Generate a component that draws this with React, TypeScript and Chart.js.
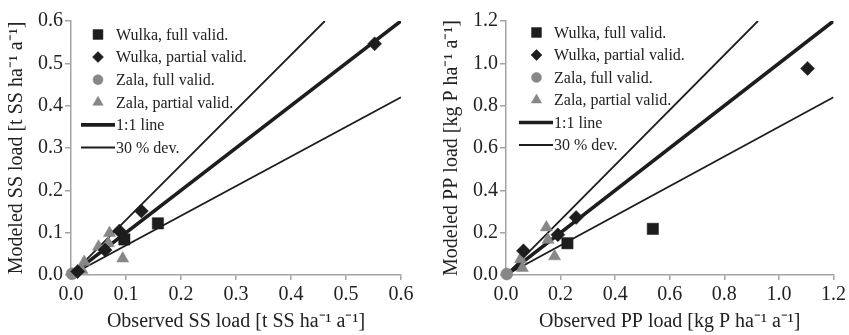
import React, { useEffect, useRef } from 'react';
import { Chart, registerables } from 'chart.js';
import { drawPoint } from 'chart.js/helpers';

Chart.register(...registerables);

const FONT = "'Liberation Serif', 'Times New Roman', serif";
const BLACK = '#1d1d1d';
const GRAY = '#878787';
const AXIS = '#a3a3a3';
const TEXT = '#222222';

// ---- Suspended solids (SS) panel: observed (x) vs modeled (y), t SS ha-1 a-1
const ssWulkaFullObs = [0.158, 0.097];
const ssWulkaFullMod = [0.122, 0.084];
const ssWulkaPartObs = [0.552, 0.128, 0.088, 0.062, 0.012];
const ssWulkaPartMod = [0.546, 0.151, 0.104, 0.059, 0.008];
const ssZalaFullObs = [0.002];
const ssZalaFullMod = [0.003];
const ssZalaPartObs = [0.070, 0.068, 0.050, 0.094, 0.024, 0.020];
const ssZalaPartMod = [0.099, 0.075, 0.067, 0.039, 0.031, 0.012];
const ssAxisMax = 0.6;
const ssStep = 0.1;

// ---- Particulate phosphorus (PP) panel: kg P ha-1 a-1
const ppWulkaFullObs = [0.225, 0.538];
const ppWulkaFullMod = [0.150, 0.218];
const ppWulkaPartObs = [1.105, 0.257, 0.190, 0.064];
const ppWulkaPartMod = [0.976, 0.272, 0.190, 0.114];
const ppZalaFullObs = [0.003];
const ppZalaFullMod = [0.005];
const ppZalaPartObs = [0.148, 0.154, 0.178, 0.053, 0.060];
const ppZalaPartMod = [0.225, 0.166, 0.088, 0.075, 0.033];
const ppAxisMax = 1.2;
const ppStep = 0.2;

// deviation band
const deviation = 0.3;

const legendLabels = [
  'Wulka, full valid.',
  'Wulka, partial valid.',
  'Zala, full valid.',
  'Zala, partial valid.',
  '1:1 line',
  '30 % dev.',
];

const pairs = (xs: number[], ys: number[]) => xs.map((x, i) => ({ x, y: ys[i] }));

type PanelSpec = {
  obs: number[][];
  mod: number[][];
  max: number;
  step: number;
  xTitle: string;
  yTitle: string;
  padLeft: number;
  padRight: number;
  legend: { markerX: number; lineX0: number; lineX1: number; textX: number; top: number; gap: number };
};

const legendPlugin = {
  id: 'insideLegend',
  afterDatasetsDraw(chart: any, _args: any, opts: any) {
    const { ctx, chartArea } = chart;
    const L = opts.layout;
    ctx.save();
    let row = 0;
    chart.data.datasets.forEach((ds: any) => {
      if (ds.hideInLegend) return;
      const y = chartArea.top + L.top + row * L.gap;
      if (ds.showLine) {
        ctx.strokeStyle = ds.borderColor;
        ctx.lineWidth = ds.borderWidth;
        ctx.beginPath();
        ctx.moveTo(chartArea.left + L.lineX0, y);
        ctx.lineTo(chartArea.left + L.lineX1, y);
        ctx.stroke();
      } else {
        ctx.fillStyle = ds.backgroundColor;
        ctx.strokeStyle = ds.backgroundColor;
        ctx.lineWidth = 0.5;
        drawPoint(ctx, { pointStyle: ds.pointStyle, radius: ds.legendRadius, borderWidth: 0.5, rotation: 0 } as any, chartArea.left + L.markerX, y);
      }
      ctx.fillStyle = TEXT;
      ctx.font = `16px ${FONT}`;
      ctx.textBaseline = 'middle';
      ctx.textAlign = 'left';
      ctx.fillText(ds.label, chartArea.left + L.textX, y + 1);
      row++;
    });
    ctx.restore();
  },
};

function buildConfig(p: PanelSpec): any {
  const styles = [
    { style: 'rect', color: BLACK, r: 8, lr: 7 },
    { style: 'rectRot', color: BLACK, r: 7, lr: 5.5 },
    { style: 'circle', color: GRAY, r: 6, lr: 5 },
    { style: 'triangle', color: GRAY, r: 7, lr: 6 },
  ];
  const pointSets = styles.map((s, i) => ({
    type: 'scatter',
    label: legendLabels[i],
    data: pairs(p.obs[i], p.mod[i]),
    pointStyle: s.style,
    backgroundColor: s.color,
    borderColor: s.color,
    borderWidth: 0.5,
    pointRadius: s.r,
    legendRadius: s.lr,
    showLine: false,
    clip: false,
    order: 0,
  }));
  const lineSet = (label: string, data: any[], width: number, hide: boolean) => ({
    type: 'scatter',
    label,
    data,
    showLine: true,
    borderColor: BLACK,
    backgroundColor: BLACK,
    borderWidth: width,
    pointRadius: 0,
    hideInLegend: hide,
    order: 1,
  });
  const m = p.max;
  const datasets = [
    ...pointSets,
    lineSet(legendLabels[4], [{ x: 0, y: 0 }, { x: m, y: m }], 3.6, false),
    lineSet(legendLabels[5], [{ x: 0, y: 0 }, { x: m / (1 + deviation), y: m }], 1.8, false),
    lineSet(legendLabels[5], [{ x: 0, y: 0 }, { x: m, y: m * (1 - deviation) }], 1.8, true),
  ];
  const tickFont = { family: FONT, size: 20 };
  const titleFont = { family: FONT, size: 20 };
  const axisCommon = (title: string) => ({
    type: 'linear',
    min: 0,
    max: m,
    ticks: {
      stepSize: p.step,
      callback: (v: any) => Number(v).toFixed(1),
      font: tickFont,
      color: TEXT,
      maxRotation: 0,
      autoSkip: false,
    },
    grid: { display: true, drawOnChartArea: false, drawTicks: true, color: AXIS, lineWidth: 1.5 },
    border: { display: true, color: AXIS, width: 1.5 },
    title: { display: true, text: title, font: titleFont, color: TEXT },
  });
  const x: any = axisCommon(p.xTitle);
  x.ticks.padding = 3;
  x.grid.tickLength = 5;
  x.title.padding = { top: 0, bottom: 1 };
  x.afterFit = (s: any) => { s.height = 60; };
  const y: any = axisCommon(p.yTitle);
  y.ticks.padding = 2;
  y.grid.tickLength = 6;
  y.title.padding = { top: 5, bottom: 0 };
  y.afterFit = (s: any) => { s.width = 71; };
  return {
    type: 'scatter',
    data: { datasets },
    plugins: [legendPlugin],
    options: {
      responsive: false,
      animation: false,
      devicePixelRatio: 1,
      layout: { padding: { left: p.padLeft, right: p.padRight, top: 21, bottom: 0 } },
      plugins: {
        legend: { display: false },
        tooltip: { enabled: false },
        insideLegend: { layout: p.legend },
      },
      scales: { x, y },
    },
  };
}

function Panel({ spec, left, width }: { spec: PanelSpec; left: number; width: number }) {
  const ref = useRef<HTMLCanvasElement>(null);
  useEffect(() => {
    const chart = new Chart(ref.current as HTMLCanvasElement, buildConfig(spec));
    return () => chart.destroy();
  }, []);
  return (
    <div style={{ position: 'absolute', left, top: 0, width, height: 335 }}>
      <canvas ref={ref} width={width} height={335} style={{ display: 'block' }} />
    </div>
  );
}

const ssSpec: PanelSpec = {
  obs: [ssWulkaFullObs, ssWulkaPartObs, ssZalaFullObs, ssZalaPartObs],
  mod: [ssWulkaFullMod, ssWulkaPartMod, ssZalaFullMod, ssZalaPartMod],
  max: ssAxisMax,
  step: ssStep,
  xTitle: 'Observed SS load [t SS ha⁻¹ a⁻¹]',
  yTitle: 'Modeled SS load [t SS ha⁻¹ a⁻¹]',
  padLeft: 0,
  padRight: 19,
  legend: { markerX: 27, lineX0: 10, lineX1: 44, textX: 45, top: 13.5, gap: 22.6 },
};

const ppSpec: PanelSpec = {
  obs: [ppWulkaFullObs, ppWulkaPartObs, ppZalaFullObs, ppZalaPartObs],
  mod: [ppWulkaFullMod, ppWulkaPartMod, ppZalaFullMod, ppZalaPartMod],
  max: ppAxisMax,
  step: ppStep,
  xTitle: 'Observed PP load [kg P ha⁻¹ a⁻¹]',
  yTitle: 'Modeled PP load [kg P ha⁻¹ a⁻¹]',
  padLeft: 15,
  padRight: 13,
  legend: { markerX: 30.5, lineX0: 13, lineX1: 47, textX: 48, top: 11.5, gap: 22.5 },
};

export default function App() {
  return (
    <div style={{ position: 'fixed', left: 0, top: 0, width: 849, height: 335, background: '#ffffff', overflow: 'hidden' }}>
      <Panel spec={ssSpec} left={0} width={420} />
      <Panel spec={ppSpec} left={420} width={429} />
    </div>
  );
}
